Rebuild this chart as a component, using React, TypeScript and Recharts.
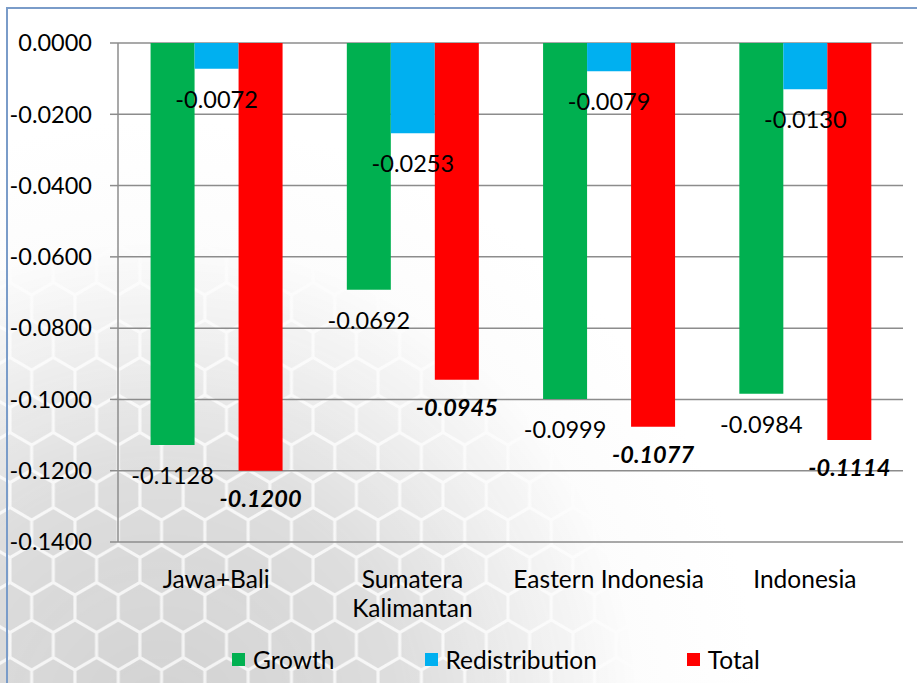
import React from 'react';
import { BarChart, Bar, XAxis, YAxis, CartesianGrid, LabelList } from 'recharts';

const categories = ['Jawa+Bali', 'Sumatera\nKalimantan', 'Eastern Indonesia', 'Indonesia'];
const growth = [-0.1128, -0.0692, -0.0999, -0.0984];
const redistribution = [-0.0072, -0.0253, -0.0079, -0.013];
const total = [-0.12, -0.0945, -0.1077, -0.1114];
const yTicks = [0, -0.02, -0.04, -0.06, -0.08, -0.1, -0.12, -0.14];
const seriesNames = ['Growth', 'Redistribution', 'Total'];
const seriesColors = ['#00B050', '#00B0F0', '#FF0000'];

const data = categories.map((c, i) => ({
  category: c,
  idx: i,
  Growth: growth[i],
  Redistribution: redistribution[i],
  Total: total[i],
}));

const FONT = 'Lato, "Open Sans", sans-serif';
const FS = 23.5;

const makeLabel = (bold: boolean) => (props: any) => {
  const { x, y, width, height, value } = props;
  const end = Math.max(y, y + height);
  return (
    <text
      x={x + width / 2}
      y={end + (bold ? 27 : 30)}
      textAnchor="middle"
      dominantBaseline="central"
      fontFamily={FONT}
      fontSize={FS}
      fill="#000"
      fontWeight={bold ? 'bold' : 'normal'}
      fontStyle={bold ? 'italic' : 'normal'}
    >
      {Number(value).toFixed(4)}
    </text>
  );
};

const CatTick = (props: any) => {
  const { x, y, payload } = props;
  const lines = String(payload.value).split('\n');
  return (
    <text x={x} y={y + 36} textAnchor="middle" dominantBaseline="central" fontFamily={FONT} fontSize={24.5} fill="#000">
      {lines.map((l, i) => (
        <tspan key={i} x={x} dy={i === 0 ? 0 : 29}>
          {l}
        </tspan>
      ))}
    </text>
  );
};

const hexPts = (cx: number, cy: number, r: number) => {
  const pts: string[] = [];
  for (let k = 0; k < 6; k++) {
    const a = ((-90 + 60 * k) * Math.PI) / 180;
    pts.push(`${(cx + r * Math.cos(a)).toFixed(2)},${(cy + r * Math.sin(a)).toFixed(2)}`);
  }
  return pts.join(' ');
};

const HexBackground = () => {
  const r = 25;
  const w = r * Math.sqrt(3);
  const h = 3 * r;
  const centers = [
    [w / 2, r],
    [0, 2.5 * r],
    [w, 2.5 * r],
    [0, -0.5 * r],
    [w, -0.5 * r],
  ];
  return (
    <svg width={917} height={683} style={{ position: 'absolute', left: 0, top: 0 }}>
      <defs>
        <pattern id="hex" width={w} height={h} patternUnits="userSpaceOnUse" x={10} y={20}>
          {centers.map((c, i) => (
            <polygon key={i} points={hexPts(c[0], c[1], r - 1.8)} fill="#d2d2d2" />
          ))}
        </pattern>
        <radialGradient id="fade" cx={160} cy={720} r={480} gradientUnits="userSpaceOnUse">
          <stop offset="0" stopColor="#fff" stopOpacity={1} />
          <stop offset="0.5" stopColor="#fff" stopOpacity={0.7} />
          <stop offset="0.8" stopColor="#fff" stopOpacity={0.25} />
          <stop offset="1" stopColor="#fff" stopOpacity={0} />
        </radialGradient>
        <radialGradient id="fadebg" cx={160} cy={720} r={600} gradientUnits="userSpaceOnUse">
          <stop offset="0" stopColor="#f2f2f2" stopOpacity={1} />
          <stop offset="1" stopColor="#ffffff" stopOpacity={1} />
        </radialGradient>
        <mask id="m">
          <rect x={0} y={0} width={917} height={683} fill="url(#fade)" />
        </mask>
      </defs>
      <rect x={0} y={0} width={917} height={683} fill="url(#fadebg)" />
      <rect x={0} y={0} width={917} height={683} fill="url(#hex)" mask="url(#m)" />
    </svg>
  );
};

export default function App() {
  return (
    <div style={{ position: 'absolute', left: 0, top: 0, width: 917, height: 683, background: '#fff', overflow: 'hidden' }}>
      <HexBackground />
      <div
        style={{
          position: 'absolute',
          left: 6,
          top: 7,
          width: 917,
          height: 683,
          borderTop: '2px solid #7A9CC9',
          borderLeft: '2px solid #7A9CC9',
        }}
      />
      <div style={{ position: 'absolute', left: 0, top: 0 }}>
        <BarChart
          width={917}
          height={683}
          data={data}
          margin={{ top: 43, right: 14, left: 0, bottom: 81 }}
          barCategoryGap="16.6%"
          barGap={0}
        >
          <CartesianGrid vertical={false} stroke="#8c8c8c" strokeWidth={1.5} />
          <XAxis
            dataKey="category"
            interval={0}
            axisLine={false}
            tickLine={false}
            tickSize={0}
            tickMargin={0}
            height={60}
            tick={<CatTick />}
          />
          <XAxis
            xAxisId="top"
            dataKey="idx"
            type="number"
            orientation="top"
            domain={[0, 4]}
            ticks={[0, 1, 2, 3, 4]}
            allowDataOverflow
            height={0}
            tick={false}
            tickSize={8}
            axisLine={{ stroke: '#8c8c8c', strokeWidth: 1.5 }}
            tickLine={{ stroke: '#8c8c8c', strokeWidth: 1.5 }}
          />
          <YAxis
            domain={[-0.14, 0]}
            ticks={yTicks}
            width={118}
            tickSize={8}
            tickMargin={18}
            tickFormatter={(v: number) => v.toFixed(4)}
            axisLine={{ stroke: '#8c8c8c', strokeWidth: 1.5 }}
            tickLine={{ stroke: '#8c8c8c', strokeWidth: 1.5 }}
            tick={{ fill: '#000', fontSize: FS, fontFamily: FONT }}
          />
          {seriesNames.map((s, i) => (
            <Bar key={s} dataKey={s} fill={seriesColors[i]} isAnimationActive={false}>
              <LabelList dataKey={s} content={makeLabel(s === 'Total')} />
            </Bar>
          ))}
        </BarChart>
      </div>
      <div
        style={{
          position: 'absolute',
          left: 232,
          top: 645,
          display: 'flex',
          gap: 90,
          fontFamily: FONT,
          fontSize: 24.5,
          color: '#000',
          alignItems: 'center',
          height: 28,
        }}
      >
        {seriesNames.map((s, i) => (
          <div key={s} style={{ display: 'flex', alignItems: 'center' }}>
            <span style={{ display: 'inline-block', width: 13, height: 13, background: seriesColors[i], marginRight: 8 }} />
            <span>{s}</span>
          </div>
        ))}
      </div>
    </div>
  );
}
